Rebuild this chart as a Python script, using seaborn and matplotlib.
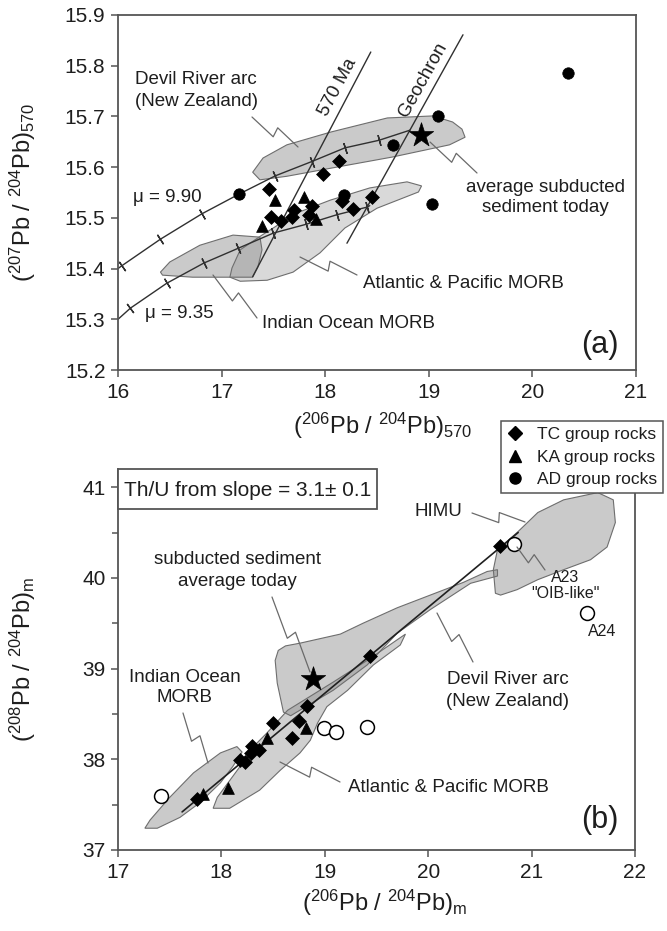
import numpy as np
import matplotlib
matplotlib.use('Agg')
import matplotlib.pyplot as plt
import seaborn as sns
from matplotlib.lines import Line2D
from matplotlib.patches import Rectangle

# ---------------- panel (a) data ----------------
a_tc_x = [18.13, 17.98, 17.46, 17.48, 17.57, 17.68, 17.70, 17.87, 17.84, 18.16, 18.27, 18.45]
a_tc_y = [15.612, 15.586, 15.557, 15.502, 15.494, 15.502, 15.515, 15.523, 15.506, 15.533, 15.517, 15.541]
a_ka_x = [17.52, 17.39, 17.80, 17.91]
a_ka_y = [15.535, 15.484, 15.541, 15.498]
a_ad_x = [17.17, 19.09, 18.65, 18.18, 19.03, 20.34]
a_ad_y = [15.547, 15.701, 15.644, 15.545, 15.527, 15.786]
a_sed_x = [18.92]
a_sed_y = [15.663]

mu990_x = [16.00, 16.04, 16.41, 16.81, 17.17, 17.52, 17.87, 18.19, 18.52, 18.82]
mu990_y = [15.400, 15.406, 15.458, 15.508, 15.547, 15.583, 15.611, 15.638, 15.653, 15.673]
mu935_x = [16.00, 16.12, 16.47, 16.83, 17.16, 17.50, 17.81, 18.11, 18.40, 18.43]
mu935_y = [15.300, 15.322, 15.371, 15.411, 15.440, 15.470, 15.487, 15.506, 15.521, 15.524]

iso570_x = [17.30, 18.44]
iso570_y = [15.384, 15.827]
geochron_x = [18.21, 19.33]
geochron_y = [15.450, 15.861]

a_devil_x = [17.30, 17.40, 17.63, 18.05, 18.60, 19.04, 19.23, 19.32, 19.35, 19.20, 18.65, 18.11, 17.63, 17.37]
a_devil_y = [15.590, 15.618, 15.644, 15.669, 15.697, 15.701, 15.689, 15.675, 15.659, 15.644, 15.620, 15.600, 15.582, 15.575]
a_atl_x = [17.10, 17.18, 17.39, 17.73, 18.05, 18.43, 18.79, 18.93, 18.90, 18.50, 18.19, 17.95, 17.69, 17.44, 17.18, 17.08]
a_atl_y = [15.401, 15.437, 15.466, 15.510, 15.535, 15.559, 15.571, 15.563, 15.551, 15.519, 15.480, 15.431, 15.393, 15.377, 15.375, 15.383]
a_ind_x = [16.41, 16.50, 16.79, 17.11, 17.37, 17.39, 17.35, 17.30, 17.05, 16.72, 16.43]
a_ind_y = [15.393, 15.413, 15.446, 15.466, 15.462, 15.437, 15.403, 15.383, 15.383, 15.383, 15.387]

# ---------------- panel (b) data ----------------
b_tc_x = [20.69, 19.44, 18.83, 18.50, 18.75, 18.68, 18.36, 18.29, 18.30, 18.18, 18.23, 17.76]
b_tc_y = [40.35, 39.14, 38.59, 38.40, 38.42, 38.23, 38.10, 38.07, 38.15, 37.99, 37.97, 37.56]
b_ka_x = [18.82, 18.44, 17.82, 18.06]
b_ka_y = [38.35, 38.23, 37.62, 37.68]
b_ad_x = [17.42, 18.99, 19.11, 19.41, 20.83, 21.54]
b_ad_y = [37.60, 38.35, 38.30, 38.36, 40.37, 39.61]
b_sed_x = [18.89]
b_sed_y = [38.89]
b_fit_x = [17.62, 20.87]
b_fit_y = [37.42, 40.50]

b_ind_x = [17.26, 17.31, 17.50, 17.73, 17.99, 18.15, 18.20, 18.11, 17.99, 17.79, 17.60, 17.38]
b_ind_y = [37.24, 37.33, 37.58, 37.85, 38.07, 38.14, 38.08, 37.92, 37.74, 37.52, 37.36, 37.24]
b_atl_x = [17.92, 17.96, 18.18, 18.31, 18.44, 18.64, 19.08, 19.41, 19.78, 19.73, 19.47, 19.22, 19.02, 18.93, 18.86, 18.76, 18.57, 18.37, 18.08]
b_atl_y = [37.46, 37.58, 37.92, 38.14, 38.29, 38.54, 38.85, 39.09, 39.38, 39.26, 39.04, 38.76, 38.58, 38.40, 38.21, 38.07, 37.88, 37.66, 37.46]
b_devil_x = [18.52, 18.55, 18.62, 18.76, 19.15, 19.37, 19.70, 20.02, 20.34, 20.57, 20.67, 20.67, 20.41, 20.02, 19.70, 19.41, 19.08, 18.67, 18.60, 18.54]
b_devil_y = [39.09, 39.20, 39.25, 39.28, 39.38, 39.50, 39.67, 39.81, 39.95, 40.07, 40.09, 40.02, 39.94, 39.65, 39.39, 39.04, 38.76, 38.48, 38.52, 38.84]
b_himu_x = [20.65, 20.63, 20.67, 20.86, 21.06, 21.31, 21.64, 21.79, 21.81, 21.73, 21.57, 21.31, 21.06, 20.86, 20.70]
b_himu_y = [39.83, 40.09, 40.31, 40.50, 40.72, 40.86, 40.94, 40.86, 40.61, 40.34, 40.20, 40.09, 39.98, 39.87, 39.81]

a_xticks = [16, 17, 18, 19, 20, 21]
a_yticks = [15.2, 15.3, 15.4, 15.5, 15.6, 15.7, 15.8, 15.9]
b_xticks = [17, 18, 19, 20, 21, 22]
b_yticks = [37, 38, 39, 40, 41]
b_yminor = [37.5, 38.5, 39.5, 40.5]
legend_labels = ['TC group rocks', 'KA group rocks', 'AD group rocks']

# ---------------- style ----------------
sns.set_theme(style='white')
plt.rcParams['font.family'] = ['Liberation Sans', 'DejaVu Sans']
plt.rcParams['mathtext.fontset'] = 'custom'
plt.rcParams['mathtext.rm'] = 'Liberation Sans'
plt.rcParams['mathtext.it'] = 'Liberation Sans:italic'
plt.rcParams['mathtext.bf'] = 'Liberation Sans:bold'

TXT = '#1e1e1e'
SP = '#555555'
W, H = 667, 931
fig = plt.figure(figsize=(W / 100, H / 100), dpi=100)


def fx(px):
    return px / W


def fy(py):
    return 1 - py / H


axA = fig.add_axes([fx(118), fy(370), fx(636) - fx(118), fy(15) - fy(370)])
axB = fig.add_axes([fx(118), fy(850), fx(635) - fx(118), fy(469) - fy(850)])

for ax in (axA, axB):
    for s in ax.spines.values():
        s.set_color(SP)
        s.set_linewidth(1.3)
    ax.tick_params(which='both', direction='out', color=SP, width=1.1,
                   labelsize=15, labelcolor=TXT, left=True, bottom=True)
    ax.tick_params(which='major', length=5, pad=4)
    ax.tick_params(which='minor', length=4)
    ax.grid(False)

axA.set_xlim(16, 21)
axA.set_ylim(15.2, 15.9)
axA.set_xticks(a_xticks)
axA.set_yticks(a_yticks)
axA.set_yticklabels([f'{v:.1f}' for v in a_yticks])

axB.set_xlim(17, 22)
axB.set_ylim(37, 41.2)
axB.set_xticks(b_xticks)
axB.set_yticks(b_yticks)
axB.set_yticks(b_yminor, minor=True)
axB.spines['top'].set_visible(False)


def region(ax, xs, ys, alpha):
    ax.fill(xs, ys, facecolor='#8a8a8a', alpha=alpha, edgecolor='none', zorder=1)
    ax.fill(xs, ys, facecolor='none', edgecolor='#6e6e6e', lw=0.8, zorder=1.2)


# ---- panel (a) regions
region(axA, a_devil_x, a_devil_y, 0.45)
region(axA, a_atl_x, a_atl_y, 0.32)
region(axA, a_ind_x, a_ind_y, 0.45)

# lines
for xs, ys in ((iso570_x, iso570_y), (geochron_x, geochron_y)):
    sns.lineplot(x=xs, y=ys, ax=axA, color='#303030', lw=1.0, sort=False,
                 estimator=None, zorder=2)
for xs, ys in ((mu990_x, mu990_y), (mu935_x, mu935_y)):
    sns.lineplot(x=xs, y=ys, ax=axA, color='#303030', lw=1.0, sort=False,
                 estimator=None, zorder=2)
    pts = axA.transData.transform(np.column_stack([xs, ys]))
    for i in range(1, len(xs) - 1):
        d = pts[i + 1] - pts[i - 1]
        ang = np.degrees(np.arctan2(d[1], d[0]))
        axA.plot([xs[i]], [ys[i]], ls='none', marker=(2, 2, ang), ms=8,
                 mec='#303030', mew=1.0, zorder=2)

# points
kw = dict(color='black', edgecolor='black', legend=False, zorder=5)
sns.scatterplot(x=a_tc_x, y=a_tc_y, marker='D', s=50, linewidth=0.5, ax=axA, **kw)
sns.scatterplot(x=a_ka_x, y=a_ka_y, marker='^', s=72, linewidth=0.5, ax=axA, **kw)
sns.scatterplot(x=a_ad_x, y=a_ad_y, marker='o', s=68, linewidth=0.5, ax=axA, **kw)
sns.scatterplot(x=a_sed_x, y=a_sed_y, marker='*', s=340, linewidth=0.5, ax=axA, **kw)

# ---- panel (b) regions
region(axB, b_himu_x, b_himu_y, 0.45)
region(axB, b_devil_x, b_devil_y, 0.45)
region(axB, b_atl_x, b_atl_y, 0.40)
region(axB, b_ind_x, b_ind_y, 0.45)

sns.lineplot(x=b_fit_x, y=b_fit_y, ax=axB, color='#202020', lw=1.2, sort=False,
             estimator=None, zorder=3)
sns.scatterplot(x=b_tc_x, y=b_tc_y, marker='D', s=50, linewidth=0.5, ax=axB, **kw)
sns.scatterplot(x=b_ka_x, y=b_ka_y, marker='^', s=72, linewidth=0.5, ax=axB, **kw)
sns.scatterplot(x=b_ad_x, y=b_ad_y, marker='o', s=100, color='white', edgecolor='black',
                linewidth=1.1, ax=axB, legend=False, zorder=5)
sns.scatterplot(x=b_sed_x, y=b_sed_y, marker='*', s=340, linewidth=0.5, ax=axB, **kw)

# ---- axis labels
axA.set_xlabel(r'$(^{206}\mathrm{Pb}\ /\ ^{204}\mathrm{Pb})_{570}$', fontsize=17, color=TXT)
axA.set_ylabel(r'$(^{207}\mathrm{Pb}\ /\ ^{204}\mathrm{Pb})_{570}$', fontsize=17, color=TXT)
axA.xaxis.set_label_coords(0.51, -0.115)
axA.yaxis.set_label_coords(-0.155, 0.5)
axB.set_xlabel(r'$(^{206}\mathrm{Pb}\ /\ ^{204}\mathrm{Pb})_{\mathrm{m}}$', fontsize=17, color=TXT)
axB.set_ylabel(r'$(^{208}\mathrm{Pb}\ /\ ^{204}\mathrm{Pb})_{\mathrm{m}}$', fontsize=17, color=TXT)
axB.xaxis.set_label_coords(0.515, -0.10)
axB.yaxis.set_label_coords(-0.155, 0.5)

# ---- Th/U box
axB.add_patch(Rectangle((0, 1 - 40 / 381), (377 - 118) / 517, 40 / 381,
                        transform=axB.transAxes, facecolor='white', edgecolor=SP,
                        lw=1.3, zorder=6, clip_on=False))
axB.text((124 - 118) / 517, 1 - 21 / 381, 'Th/U from slope = 3.1\u00b1 0.1',
         transform=axB.transAxes, ha='left', va='center', fontsize=15, color=TXT, zorder=7)

# ---- legend
handles = [Line2D([], [], ls='none', marker='D', ms=7, mfc='black', mec='black'),
           Line2D([], [], ls='none', marker='^', ms=8.5, mfc='black', mec='black'),
           Line2D([], [], ls='none', marker='o', ms=8, mfc='black', mec='black')]
leg = fig.legend(handles, legend_labels, loc='upper right',
                 bbox_to_anchor=(fx(663), fy(421)), bbox_transform=fig.transFigure,
                 frameon=True, fancybox=False, framealpha=1, edgecolor=SP,
                 fontsize=12.5, handlelength=0.9, handletextpad=0.8,
                 labelspacing=0.42, borderpad=0.35, borderaxespad=0)
leg.get_frame().set_linewidth(1.1)
for t in leg.get_texts():
    t.set_color(TXT)


# ---- annotations (figure pixel coordinates)
def label(px, py, s, size=13.5, ha='left', rot=0):
    fig.text(fx(px), fy(py), s, ha=ha, va='center', fontsize=size, color=TXT,
             rotation=rot, rotation_mode='anchor' if rot else 'default')


def leader(p0, p1, h=5.0):
    p0 = np.array(p0, float)
    p1 = np.array(p1, float)
    d = p1 - p0
    L = np.hypot(*d)
    u = d / L
    n = np.array([-u[1], u[0]])
    a = p0 + 0.52 * d + n * h
    b = p0 + 0.50 * d - n * h
    pts = np.array([p0, a, b, p1])
    fig.add_artist(Line2D(fx(pts[:, 0]), fy(pts[:, 1]), transform=fig.transFigure,
                          color='#6a6a6a', lw=0.9))


# panel (a)
label(135, 80, 'Devil River arc')
label(135, 101, '(New Zealand)')
leader((252, 117), (298, 147))
label(133, 197, '\u03bc = 9.90')
label(145, 313, '\u03bc = 9.35')
label(262, 323, 'Indian Ocean MORB')
leader((213, 275), (257, 318))
label(363, 283, 'Atlantic & Pacific MORB')
leader((300, 257), (357, 275))
label(545, 187, 'average subducted', ha='center')
label(545, 208, 'sediment today', ha='center')
leader((430, 142), (477, 173))
label(338, 87, '570 Ma', size=13.5, ha='center', rot=62)
label(423, 80, 'Geochron', size=13.5, ha='center', rot=61)
label(600, 345, '(a)', size=22, ha='center')

# panel (b)
label(415, 512, 'HIMU')
leader((472, 513), (525, 522))
label(237, 560, 'subducted sediment', ha='center')
label(237, 582, 'average today', ha='center')
leader((272, 597), (310, 672))
label(185, 677, 'Indian Ocean', ha='center')
label(185, 698, 'MORB', ha='center')
leader((183, 713), (208, 763))
label(348, 787, 'Atlantic & Pacific MORB')
leader((280, 762), (340, 782))
label(508, 680, 'Devil River arc', ha='center')
label(508, 701, '(New Zealand)', ha='center')
leader((437, 613), (473, 662))
label(565, 577, 'A23', size=11.5, ha='center')
label(565, 593, '"OIB-like"', size=11.5, ha='center')
leader((517, 547), (545, 570))
label(602, 632, 'A24', size=11.5, ha='center')
label(600, 820, '(b)', size=22, ha='center')

fig.savefig('out.png', dpi=100)
